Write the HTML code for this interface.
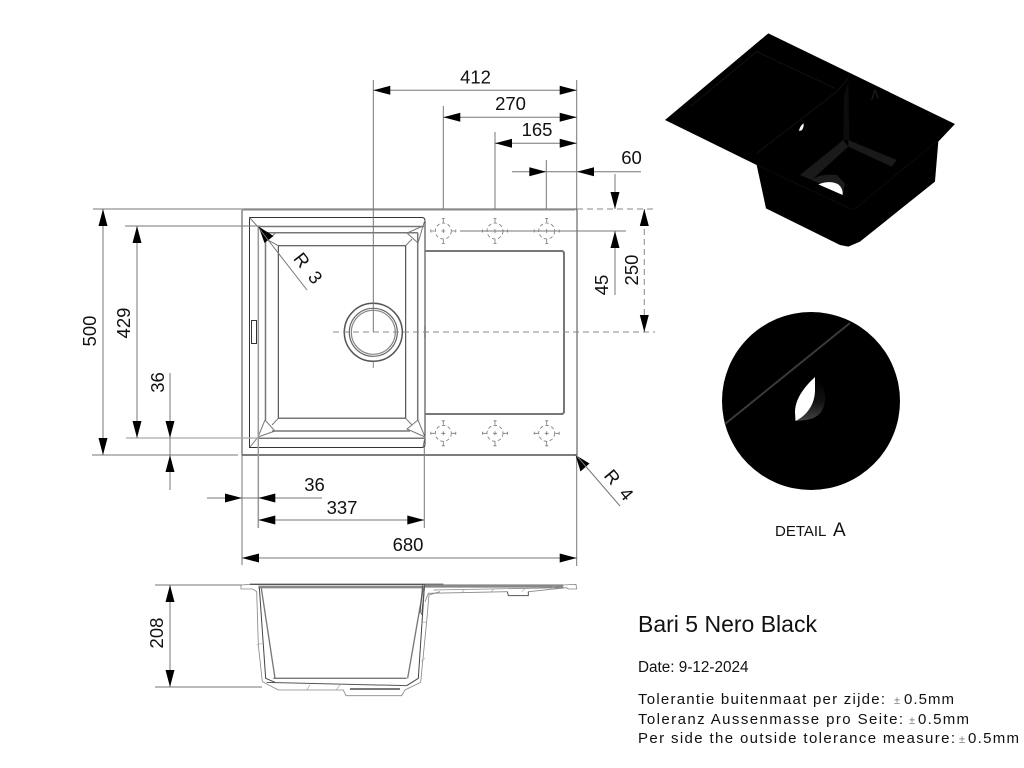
<!DOCTYPE html>
<html><head><meta charset="utf-8"><style>
html,body{margin:0;padding:0;background:#fff}
svg{display:block}
text{font-family:"Liberation Sans",sans-serif;fill:#111}
.d{font-size:18.5px;text-anchor:middle}
.e{stroke:#777;stroke-width:1;fill:none}
.k{stroke:#333;stroke-width:1;fill:none}
.g{stroke:#777;stroke-width:1.5;fill:none}
.t{font-size:15px}
.pm{font-size:11px;fill:#777}
</style></head><body>
<svg width="1024" height="768" viewBox="0 0 1024 768" xmlns="http://www.w3.org/2000/svg">
<defs>
<g id="h" fill="none" stroke="#777" stroke-width=".8">
<circle r="8" stroke-dasharray="3.5 2.5"/>
<path d="M-2 0H2M0 -2V2M-12.5 0H-8.5M8.5 0H12.5M0 -12.5V-8.5M0 8.5V12.5M-12.5 -1.5V1.5M12.5 -1.5V1.500M-1.5 -12.5H1.5M-1.5 12.5H1.5"/>
</g>
<linearGradient id="side" x1="0" y1="0" x2="0" y2="1"><stop offset="0" stop-color="#000"/><stop offset=".55" stop-color="#111"/><stop offset="1" stop-color="#444"/></linearGradient>
</defs>

<!-- plan view -->
<path d="M242 455V211Q242 209 244 209H575.5Q577 209 577 211V455Z" fill="none" stroke="#666" stroke-width="1.2"/>
<path d="M242 209.5H575" stroke="#888" stroke-width="2"/>
<path d="M242 455H577" stroke="#444" stroke-width="1.3"/>
<path d="M249.5 217.5H422Q425 217.5 425 221V444Q425 447.5 422 447.5H249.5Z" class="k"/>
<path d="M258 226.5H424M265.5 232.700H417.700M265.500 232.700V420M417.700 232.700V420M258 438.300H425M272 431H410" class="g"/>
<path d="M278.300 245.700H405.700V418.300H278.300Z" class="k"/>
<path d="M278.300 418.300H405.700" class="g"/>
<path d="M249.500 217.500L258 227M276 232.500L268 240L278.300 245.700M423 226L407 233L418 243L423 226M405.700 245.700L412 239M265 420L258 437L275 431L265 420M278.300 418.300L272 425M258 437L250 447M418 420L425 437L407 429L418 420M405.700 418.300L412 425M425 220L423 226M425 437L423 447" class="e"/>
<rect x="251.500" y="320.500" width="5" height="23" class="k"/>
<path d="M425 326V338" stroke="#666" stroke-width="1.500"/>
<circle cx="373.300" cy="332.300" r="29" fill="none" stroke="#555" stroke-width="1.500"/>
<circle cx="373.300" cy="332.300" r="24" fill="none" stroke="#666" stroke-width="1.200"/>
<circle cx="373.300" cy="332.300" r="22" fill="none" stroke="#888" stroke-width="1.200"/>
<!-- drainboard -->
<path d="M425 251H562.500L564 252.500V412.500L562.500 414H425" fill="none" stroke="#777" stroke-width="2"/>
<!-- tap holes -->
<use href="#h" x="443.300" y="231"/><use href="#h" x="495" y="231"/><use href="#h" x="546.700" y="231"/>
<use href="#h" x="443.300" y="433.300"/><use href="#h" x="495" y="433.300"/><use href="#h" x="546.700" y="433.300"/>

<!-- dim extension lines -->
<path class="e" d="M373.300 80V332M443.300 106V209M495 132V209M546.300 160V209M576.700 80V209"/>
<path class="e" d="M460 231H626M93 209H242M92 455H238M125 226H260M126 438H258"/>
<path class="e" d="M242 455V565M424.300 447V528M576.700 455V566"/>
<path d="M258.300 226V528" stroke="#999" stroke-width="1.500" fill="none"/>
<path d="M126 438H258" stroke="#aaa" stroke-width="1.300" fill="none"/>
<path stroke="#888" stroke-width="1" stroke-dasharray="6 4" fill="none" d="M577 209H655M333 332H655M644.300 209V332M373.300 362V372"/>
<path class="e" d="M373.300 90.300H576.700M443.300 117.300H576.700M495 143.300H576.700M512 171.700H641M615 174V209M615 231V295M103 209V455M137 226V438M170 373V490M207 498H322M258.300 520H424.300M242 558H576.700M170 585V687M155 585H242M155 687H262"/>
<g fill="#000">
<path d="M373.300 90.300l17-4.500v9zM576.700 90.300l-17-4.500v9zM443.300 117.300l17-4.500v9zM576.700 117.300l-17-4.500v9zM495 143.300l17-4.500v9zM576.700 143.300l-17-4.500v9z"/>
<path d="M546.300 171.700l-17-4.500v9zM577 171.700l17-4.500v9z"/>
<path d="M615 209l-4.500-17h9zM615 231l-4.500 17h9zM644.300 209l-4.500 17h9zM644.300 332l-4.500-17h9z"/>
<path d="M103 209l-4.500 17h9zM103 455l-4.500-17h9zM137 226l-4.500 17h9zM137 438l-4.500-17h9zM170 438l-4.500-17h9zM170 455l-4.500 17h9z"/>
<path d="M242 498l-17-4.500v9zM258.300 498l17-4.500v9zM258.300 520l17-4.500v9zM424.300 520l-17-4.500v9zM242 558l17-4.500v9zM576.700 558l-17-4.500v9zM170 585l-4.500 17h9zM170 687l-4.500-17h9z"/>
<path d="M258.500 226.500L264.500 243L273.500 236ZM575.500 455L580.500 471.500L589.500 463.500Z"/>
</g>
<path class="e" d="M258 227L307 290M576 455L620 506"/>

<!-- dim labels -->
<text class="d" x="475.500" y="83.500">412</text>
<text class="d" x="510.500" y="110">270</text>
<text class="d" x="537" y="136">165</text>
<text class="d" x="631.500" y="164">60</text>
<text class="d" x="314.500" y="491">36</text>
<text class="d" x="342" y="514">337</text>
<text class="d" x="408" y="551">680</text>
<text class="d" transform="translate(96,331) rotate(-90)">500</text>
<text class="d" transform="translate(130,323) rotate(-90)">429</text>
<text class="d" transform="translate(164,382.500) rotate(-90)">36</text>
<text class="d" transform="translate(608,285) rotate(-90)">45</text>
<text class="d" transform="translate(638,270) rotate(-90)">250</text>
<text class="d" transform="translate(163,633) rotate(-90)">208</text>
<text class="d" style="word-spacing:5px" transform="translate(303,272) rotate(52)">R 3</text>
<text class="d" style="word-spacing:5px" transform="translate(614,489) rotate(50)">R 4</text>

<!-- section view -->
<g transform="translate(230,575) scale(.3333)">
<path d="M60 28H640" stroke="#555" stroke-width="4" fill="none"/>
<path d="M85 36H583" stroke="#888" stroke-width="8" fill="none"/>
<path d="M60 28L33 30V42H68L80 50L85 210L97 320L145 345L340 345L348 362H515L525 345L572 322L590 140L597 60L630 50" fill="none" stroke="#888" stroke-width="2.500"/>
<path d="M88 38L107 310L135 322M583 38L565 310L530 332" fill="none" stroke="#444" stroke-width="3"/>
<path d="M94 40L135 310M580 40L533 310M130 310H530" fill="none" stroke="#777" stroke-width="4"/>
<path d="M110 322L530 332" fill="none" stroke="#555" stroke-width="3"/>
<path d="M360 342H510" stroke="#666" stroke-width="5"/>
<path d="M80 210L95 205M230 345L240 330M318 345L330 330M590 140L575 145M572 260L585 250" stroke="#aaa" stroke-width="2" fill="none"/>
</g>
<g transform="translate(420,575) scale(.3333)">
<path d="M15 33H430" stroke="#888" stroke-width="10" fill="none"/>
<path d="M430 30L468 28L470 42H445L440 38L325 50M262 50L25 55L15 80M40 45L430 38" fill="none" stroke="#888" stroke-width="2.500"/>
<path d="M262 50L265 62H325V50" fill="none" stroke="#555" stroke-width="3"/>
<path d="M125 53L135 42M210 52L225 40M305 50L320 38M390 44L405 32" stroke="#aaa" stroke-width="2" fill="none"/>
<path d="M14 30L5 120M8 30L0 115" stroke="#555" stroke-width="3" fill="none"/>
</g>

<!-- 3D render -->
<g transform="translate(660,25) scale(.3333)">
<path d="M325 25L885 297L835 350L825 470L600 650L565 665L540 660L318 550L290 420L15 285Z" fill="#000"/>
<path d="M420 450L550 345L565 365L455 465Z" fill="#1a1a1a"/>
<path d="M565 345L710 405L695 425L565 365Z" fill="#1a1a1a"/>
<path d="M550 345L552 210L565 170L568 345Z" fill="#0c0c0c"/>
<path d="M455 465Q480 445 530 450L555 475L550 505Z" fill="#1c1c1c"/>
<path d="M475 478Q510 465 535 478Q550 490 548 510Z" fill="#fff"/>
<path d="M417 318Q420 302 431 295Q432 308 425 316Z" fill="#fff"/>
<path d="M90 245L290 80L525 190M290 385L530 200L565 160" fill="none" stroke="#141414" stroke-width="2.500"/>
<path d="M290 420L580 555L835 345" fill="none" stroke="#101010" stroke-width="2"/>
<path d="M635 225L645 195L655 220" fill="none" stroke="#222" stroke-width="3"/>
</g>

<!-- detail -->
<circle cx="811" cy="401" r="89" fill="#000"/>
<path d="M725 424L850 323" stroke="#3a3a3a" stroke-width="2"/>
<path d="M815 377C826 385 828 402 821 412C815 420 806 420 796 421C806 416 815 405 815 390Z" fill="url(#side)"/>
<path d="M815 377C803 388 795 400 795 412L795.500 421C806 416 815 405 815 390Z" fill="#fff"/>
<text x="775" y="536" font-size="15px">DETAIL</text>
<text x="833" y="536" font-size="19px">A</text>

<!-- text block -->
<text x="638" y="632" font-size="23px">Bari 5 Nero Black</text>
<text x="638" y="672" font-size="15.300px">Date: 9-12-2024</text>
<text class="t" x="638" y="704" textLength="247" lengthAdjust="spacing">Tolerantie buitenmaat per zijde:</text>
<text class="pm" x="894" y="704">±</text>
<text class="t" x="904" y="704" textLength="50" lengthAdjust="spacing">0.5mm</text>
<text class="t" x="638" y="724" textLength="265" lengthAdjust="spacing">Toleranz Aussenmasse pro Seite:</text>
<text class="pm" x="909" y="724">±</text>
<text class="t" x="918" y="724" textLength="51" lengthAdjust="spacing">0.5mm</text>
<text class="t" x="638" y="743" textLength="317" lengthAdjust="spacing">Per side the outside tolerance measure:</text>
<text class="pm" x="959" y="743">±</text>
<text class="t" x="968" y="743" textLength="51" lengthAdjust="spacing">0.5mm</text>
</svg>
</body></html>
